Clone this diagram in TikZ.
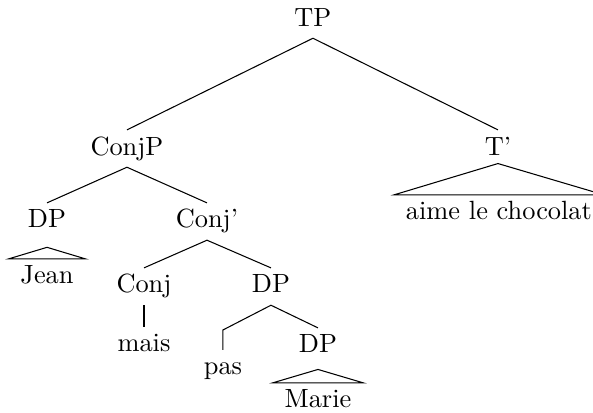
\documentclass[tikz,border=0pt]{standalone}
\usepackage{tikz}
\usetikzlibrary{positioning}
\usetikzlibrary{calc}
\tikzstyle{cat} = [anchor = base, inner xsep = 4.3pt, inner ysep = 2.5pt, text height = 6.83pt, text depth = 1.94pt]
\tikzstyle{edge} = [line width = 0.4pt]
\begin{document}
\begin{tikzpicture}
		\useasboundingbox (0,0) rectangle (7.907,-5.507);
		
			% top levels
			\node[cat] (tp) at (4.173,-0.347) {TP};
			\node[cat] (conjp) at (1.693,-2.067) {ConjP};
			\node[cat] (tbar) at (6.640,-2.067) {T'};
			\node[cat] (chocolat) at (6.653,-2.933) {aime le chocolat};
			
			% ConjP
			\node[cat] (dpjean) at (0.627,-3.040) {DP};
			\node[cat] (conjbar) at (2.760,-3.040) {Conj'};
			\node[cat] (jean) at (0.627,-3.787) {Jean};
			\node[cat] (conj) at (1.920,-3.907) {Conj};
			\node[cat] (dppas) at (3.613,-3.907) {DP};
			\node[cat] (mais) at (1.920,-4.693) {mais};
			\node[cat] (pas) at (2.973,-5.000) {pas};
			\node[cat] (dpmarie) at (4.240,-4.707) {DP};
			\node[cat] (marie) at (4.240,-5.440) {Marie};
			\coordinate (pasbend) at (2.973,-4.400);
			
			% Branches
			\draw[edge] (conjp.north) -- (tp.south) -- (tbar.north);
			\draw[edge] (dpjean.north) -- (conjp.south) -- (conjbar.north);
			\draw[edge] (conj.north) -- (conjbar.south) -- (dppas.north);
			\draw[edge] (conj.south) -- (mais.north);
			\draw[edge] (pas.north) -- (pasbend) -- (dppas.south) -- (dpmarie.north);
			
			% Roofs
			\draw[edge] ([yshift = 1.4pt]tbar.south) -- (chocolat.north west) -- (chocolat.north east) -- cycle;
			\draw[edge] ([yshift = -2.7pt]dpjean.south) -- (jean.north west) -- (jean.north east) -- cycle;
			\draw[edge] ([yshift = -1.6pt]dpmarie.south) -- (marie.north west) -- (marie.north east) -- cycle;
		
		\end{tikzpicture}
\end{document}
